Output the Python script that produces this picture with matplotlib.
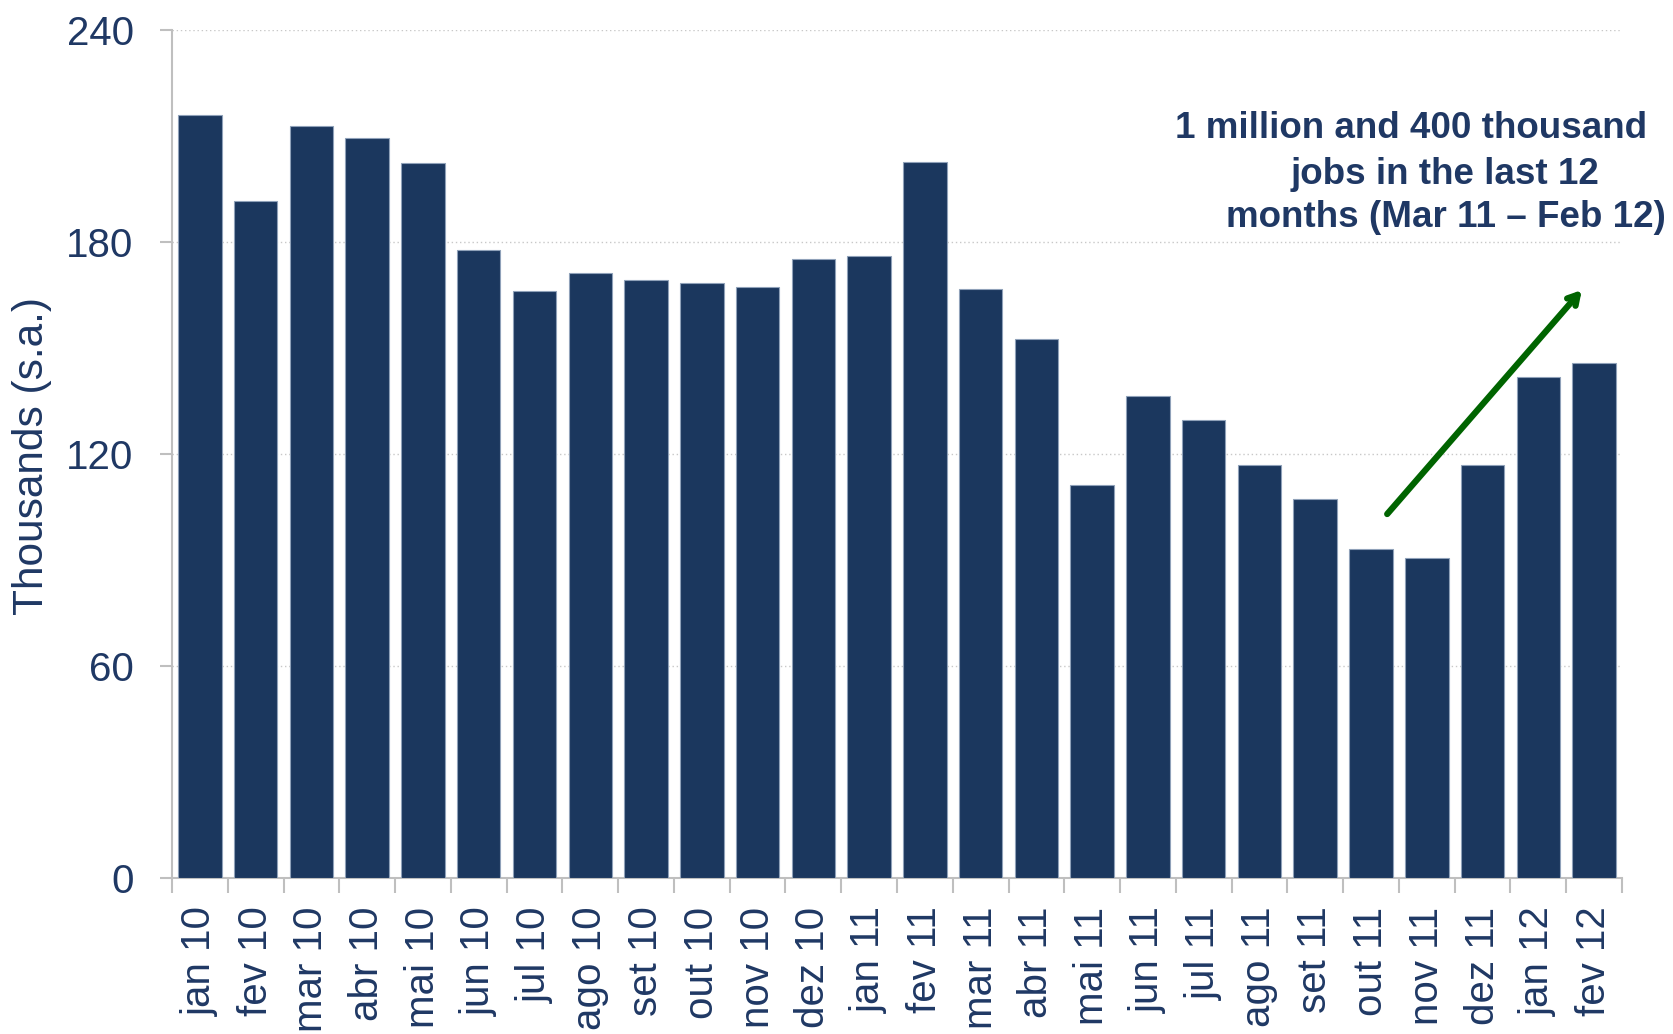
import matplotlib.pyplot as plt
import numpy as np

# dados (milhares, s.a.)
meses = ["jan 10", "fev 10", "mar 10", "abr 10", "mai 10", "jun 10", "jul 10",
         "ago 10", "set 10", "out 10", "nov 10", "dez 10",
         "jan 11", "fev 11", "mar 11", "abr 11", "mai 11", "jun 11", "jul 11",
         "ago 11", "set 11", "out 11", "nov 11", "dez 11",
         "jan 12", "fev 12"]
empregos = [215.8, 191.7, 212.8, 209.5, 202.3, 177.8, 166.0, 171.2, 169.1,
            168.5, 167.2, 175.1, 176.0, 202.6, 166.6, 152.5, 111.1, 136.5,
            129.5, 116.8, 107.2, 93.0, 90.6, 116.8, 141.9, 145.8]
y_ticks = [0, 60, 120, 180, 240]

azul = "#1b375e"
texto = "#1f3864"
cinza = "#bfbfbf"

plt.rcParams['font.family'] = ['Liberation Sans', 'DejaVu Sans']

fig = plt.figure(figsize=(16.73, 10.34), dpi=100)
ax = fig.add_axes([0.1028, 0.1509, 0.8667, 0.8201])

x = np.arange(len(meses))
ax.bar(x, empregos, width=0.78, color=azul, edgecolor="#8fa1b9", linewidth=0.8, zorder=3)

ax.set_xlim(-0.5, len(meses) - 0.5)
ax.set_ylim(0, 240)
ax.set_yticks(y_ticks)
ax.set_yticklabels([str(v) for v in y_ticks], fontsize=29, color=texto)
ax.set_xticks(x)
ax.set_xticklabels(meses, rotation=90, fontsize=29, color=texto)
ax.set_xticks(np.arange(-0.5, len(meses)), minor=True)
ax.tick_params(axis="x", which="major", length=0, pad=20.5)
ax.tick_params(axis="x", which="minor", length=11, width=1.5, color=cinza)
ax.tick_params(axis="y", length=8.6, width=1.5, color=cinza, pad=19)

ax.grid(axis="y", linestyle=(0, (1, 2)), color="#c8c8c8", linewidth=1, zorder=0)
for s in ["top", "right"]:
    ax.spines[s].set_visible(False)
for s in ["left", "bottom"]:
    ax.spines[s].set_color(cinza)
    ax.spines[s].set_linewidth(1.5)

ax.set_ylabel("Thousands (s.a.)", fontsize=30.5, color=texto)
ax.yaxis.set_label_coords(-0.083, 0.4976)

# anotacao
linhas = ["1 million and 400 thousand", "jobs in the last 12", "months (Mar 11 \u2013 Feb 12)"]
pos = [(21.71, 212.0), (22.32, 199.2), (22.34, 186.9)]
for t, (px, py) in zip(linhas, pos):
    ax.text(px, py, t, ha="center", va="center", fontsize=26.5,
            fontweight="bold", color=texto, zorder=5)

ax.annotate("", xy=(24.78, 166.4), xytext=(21.29, 103.0),
            arrowprops=dict(arrowstyle="->,head_length=0.7,head_width=0.4",
                            color="#006400", lw=4.5, shrinkA=0, shrinkB=0),
            zorder=5)

fig.savefig("out.png", dpi=100)
